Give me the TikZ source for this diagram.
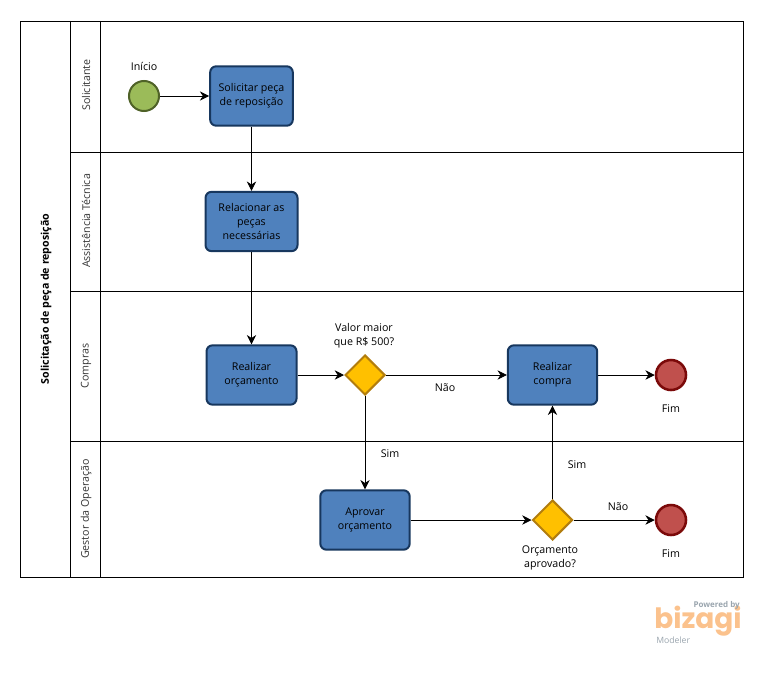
\documentclass[tikz,border=0pt]{standalone}
\usepackage{fontspec}
\setmainfont{Open Sans}
\newfontfamily\logofont{Poppins}
\usetikzlibrary{shapes,positioning,arrows.meta,calc}
\definecolor{taskfill}{HTML}{4F81BD}
\definecolor{taskline}{HTML}{17375E}
\definecolor{startfill}{HTML}{9BBB59}
\definecolor{startline}{HTML}{4F6228}
\definecolor{endfill}{HTML}{C0504D}
\definecolor{endline}{HTML}{7B0A0A}
\definecolor{gatefill}{HTML}{FFC000}
\definecolor{gateline}{HTML}{B27D0E}
\definecolor{logoorange}{HTML}{FBC28D}
\definecolor{logogray}{HTML}{9AA5AE}
\tikzset{
  lbl/.style = {font=\fontsize{8}{10.5}\selectfont, align=center, inner sep=0pt},
  lane/.style = {lbl, rotate=90, text=black!80},
  task/.style = {lbl, draw=taskline, fill=taskfill, line width=1.5pt, rounded corners=4.5pt, minimum height=44.5pt},
  startev/.style = {circle, draw=startline, fill=startfill, line width=1.5pt, minimum size=22.5pt, inner sep=0pt},
  endev/.style = {circle, draw=endline, fill=endfill, line width=1.9pt, minimum size=22.5pt, inner sep=0pt},
  gate/.style = {diamond, draw=gateline, fill=gatefill, line width=1.5pt, minimum size=30pt, inner sep=0pt},
  flow/.style = {-{Stealth[length=7pt,width=7pt]}, line width=0.6pt},
  pool/.style = {line width=0.6pt}
}
\begin{document}
\begin{tikzpicture}[x=0.75pt,y=-0.75pt]
        \useasboundingbox (0,0) rectangle (762,674);
        \draw [pool] (20.5,21) rectangle (743,577.5);
        \draw [pool] (70.5,21) -- (70.5,577.5);
        \draw [pool] (100.5,21) -- (100.5,577.5);
        \draw [pool] (70.5,152.5) -- (743,152.5);
        \draw [pool] (70.5,291.5) -- (743,291.5);
        \draw [pool] (70.5,441.5) -- (743,441.5);
        \node [lbl, rotate=90, font=\fontsize{8}{10}\selectfont\bfseries] (title) at (46,299) {Solicitação de peça de reposição};
        \node [lane] (laneA) at (86,85) {Solicitante};
        \node [lane] (laneB) at (86,221) {Assistência Técnica};
        \node [lane] (laneC) at (86,366) {Compras};
        \node [lane] (laneD) at (86,509) {Gestor da Operação};

        \node [startev] (inicio) at (144,96) {};
        \node [task, minimum width=62pt] (solicitar) at (251.5,96) {Solicitar peça\\de reposição};
        \node [task, minimum width=69pt] (relacionar) at (251.5,221.5) {Relacionar as\\peças\\necessárias};
        \node [task, minimum width=67.5pt] (orcamento) at (251.5,375) {Realizar\\orçamento};
        \node [gate] (valor) at (365,375) {};
        \node [task, minimum width=67pt] (compra) at (552.5,375) {Realizar\\compra};
        \node [endev] (fimA) at (671,375) {};
        \node [task, minimum width=67pt] (aprovar) at (365,520) {Aprovar\\orçamento};
        \node [gate] (aprovado) at (552.5,520) {};
        \node [endev] (fimB) at (671,520) {};

        \node [lbl] (txtinicio) at (144,66.5) {Início};
        \node [lbl] (txtvalor) at (364,336) {Valor maior\\que R\$ 500?};
        \node [lbl] (txtnaoA) at (445,388) {Não};
        \node [lbl] (txtsimA) at (390,454) {Sim};
        \node [lbl] (txtsimB) at (577,465) {Sim};
        \node [lbl] (txtnaoB) at (618,507) {Não};
        \node [lbl] (txtaprovado) at (550,558) {Orçamento\\aprovado?};
        \node [lbl] (txtfimA) at (671,409) {Fim};
        \node [lbl] (txtfimB) at (671,554) {Fim};

        \draw [flow] (inicio) -- (solicitar);
        \draw [flow] (solicitar) -- (relacionar);
        \draw [flow] (relacionar) -- (orcamento);
        \draw [flow] (orcamento) -- (valor);
        \draw [flow] (valor) -- (compra);
        \draw [flow] (valor) -- (aprovar);
        \draw [flow] (compra) -- (fimA);
        \draw [flow] (aprovar) -- (aprovado);
        \draw [flow] (aprovado) -- (compra);
        \draw [flow] (aprovado) -- (fimB);

        \node [lbl, font=\logofont\bfseries\fontsize{21}{21}\selectfont, text=logoorange, anchor=east] (logo) at (742,621) {bizagi};
        \node [lbl, font=\fontsize{6}{6}\selectfont\bfseries, text=logogray, anchor=east] (powered) at (740,605) {Powered by};
        \node [lbl, font=\fontsize{6.5}{6.5}\selectfont, text=logogray, anchor=west] (modeler) at (656,640) {Modeler};
\end{tikzpicture}
\end{document}
